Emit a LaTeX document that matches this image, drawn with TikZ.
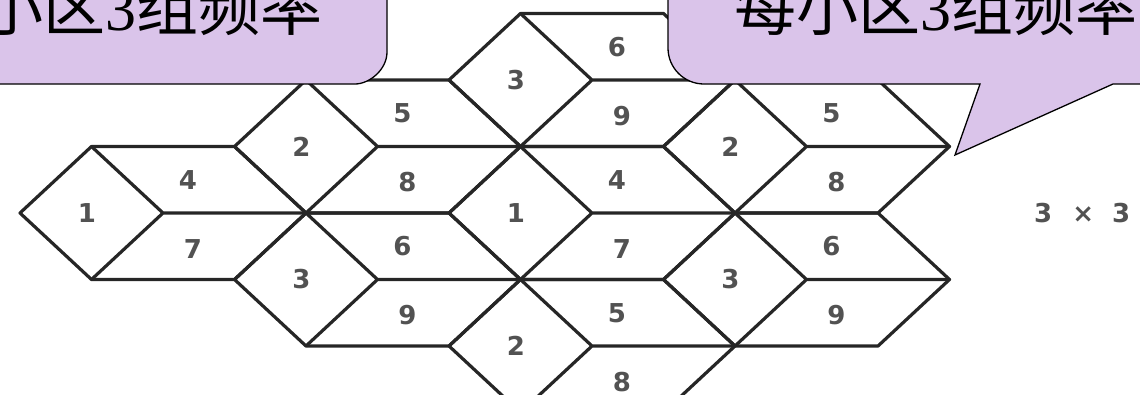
\documentclass[tikz,border=0pt]{standalone}
\usepackage{fontspec}
\setmainfont{Liberation Serif}
\setsansfont{DejaVu Sans}
\newfontfamily\cjk{Noto Sans CJK SC}
\definecolor{bubblefill}{RGB}{218,196,234}
\begin{document}
\begin{tikzpicture}[
  x=1pt, y=-1pt,
  cellline/.style={draw=black!85, line width=3.2pt, line join=round},
  sector/.style={font=\sffamily\bfseries\fontsize{26}{26}\selectfont, text=black!68, inner sep=0pt},
  bubble/.style={draw=black, line width=1.3pt, fill=bubblefill},
  bubbletext/.style={font=\fontsize{62}{62}\selectfont, inner sep=0pt, anchor=base west},
]
  \useasboundingbox (0,0) rectangle (1140,394);
  \clip (0,0) rectangle (1140,394);

  \foreach \s/\i/\j/\a/\b/\c in {A/0/0/1/4/7, B/1/-1/2/5/8, C/1/1/3/6/9, D/2/-2/3/6/9,
                                 E/2/0/1/4/7, F/2/2/2/5/8, G/3/-1/2/5/8, H/3/1/3/6/9}
  {
    \begin{scope}[shift={(163+214.5*\i, 213+66.5*\j)}]
      \coordinate (\s) at (0,0);
      \draw[cellline] (-143,0) -- (-71.5,-66.5) -- (71.5,-66.5) -- (143,0)
                      -- (71.5,66.5) -- (-71.5,66.5) -- cycle;
      \draw[cellline] (-71.5,-66.5) -- (\s) -- (143,0) (\s) -- (-71.5,66.5);
      \node[sector] (\s-l) at (-76,0) {\a};
      \node[sector] (\s-u) at (25,-33) {\b};
      \node[sector] (\s-d) at (30,36) {\c};
    \end{scope}
  }

  % callouts
  \path[bubble] (-60,-60) -- (387,-60) -- (387,52)
    .. controls (387,69.7) and (369.3,84) .. (355,84) -- (-60,84) -- cycle;
  \path[bubble] (1200,-60) -- (668,-60) -- (668,48)
    .. controls (668,67.9) and (684.1,84) .. (704,84) -- (980,84) -- (955,155)
    -- (1113,84) -- (1200,84) -- cycle;

  \node[bubbletext] (lefttxt) at (-81,30) {{\cjk 每小区}3{\cjk 组频率}};
  \node[bubbletext] (righttxt) at (734,30) {{\cjk 每小区}3{\cjk 组频率}};

  \node[sector, anchor=west] (ratio) at (1034,213) {3\hspace{20pt}×\hspace{18pt}3};
\end{tikzpicture}
\end{document}
